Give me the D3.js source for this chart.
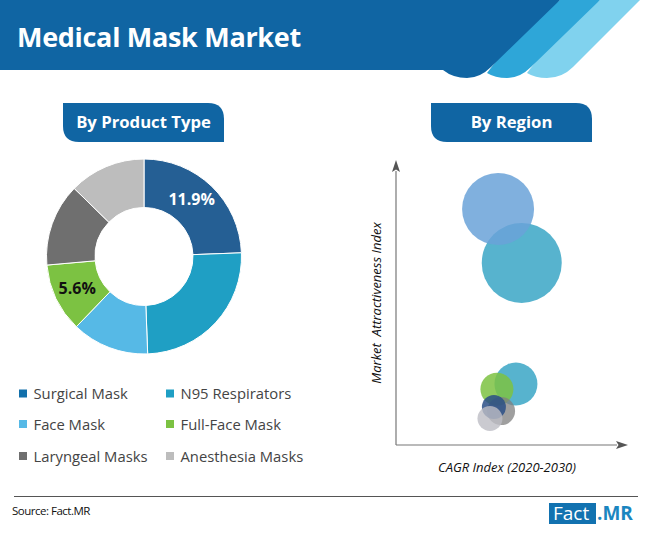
<!DOCTYPE html>
<html><head><meta charset="utf-8">
<script src="https://cdn.jsdelivr.net/npm/d3@7"></script>
<style>html,body{margin:0;padding:0;background:#fff}svg{display:block}text{font-family:"Open Sans","Noto Sans",sans-serif}</style>
</head><body><svg id="c" width="650" height="533"></svg>
<script>
const categories=["Surgical Mask","N95 Respirators","Face Mask","Full-Face Mask","Laryngeal Masks","Anesthesia Masks"];
const shares=[24.4,25,12.8,11.4,13.7,12.7];
const sliceLabels=["11.9%",null,null,"5.6%",null,null];
const colors=["#255f94","#1f9fc4","#56b9e6","#7cc242","#6f6f6f","#bdbdbd"];
const legendSwatch=["#1270ab","#1f9fc4","#56b9e6","#7cc242","#6f6f6f","#bdbdbd"];
const bubbleX=[54.2,44,51.7,43.5,45.3,42.2,40.5];
const bubbleY=[63.9,82.8,21.4,19.6,11.9,13.3,9.3];
const bubbleSize=[1600,1296,462,272,196,144,156];
const bubbleColors=["#3aa6c6","#6aa2d8","#3aa6c6","#7cc242","#7f7f7f","#2a4f86","#bdbdc4"];
const bubbleOpacity=[.85,.85,.85,.85,.75,.85,.8];

const svg=d3.select("#c");
const BLUE="#1065a3";
// header
svg.append("path").attr("d","M600 0L640 0L573 67Q562 78 547 78Q535 78 527 73L560 30Z").attr("fill","#80d2ee");
svg.append("path").attr("d","M560 0L600 0L531 67Q520 78 507 78Q495 78 487 73L520 30Z").attr("fill","#2ea6d8");
svg.append("path").attr("d","M0 0L560 0L491 67Q480 78 467 78Q453 78 443 70L0 70Z").attr("fill",BLUE);
svg.append("text").attr("x",17).attr("y",47).attr("fill","#fff").attr("font-size",27).attr("letter-spacing",-.3).attr("font-weight",700).text("Medical Mask Market");

// pills
function pill(x,label){
  const y=103,w=161,h=39,r=16;
  svg.append("path").attr("d",`M${x} ${y}H${x+w-r}Q${x+w} ${y} ${x+w} ${y+r}V${y+h}H${x+r}Q${x} ${y+h} ${x} ${y+h-r}Z`).attr("fill",BLUE);
  svg.append("text").attr("x",x+w/2).attr("y",y+25).attr("text-anchor","middle").attr("fill","#fff").attr("font-size",16.7).attr("font-weight",700).text(label);
}
pill(63,"By Product Type");
pill(431,"By Region");

// donut
const pie=d3.pie().sort(null).value(d=>d)(shares);
const arc=d3.arc().innerRadius(49).outerRadius(97.5);
const g=svg.append("g").attr("transform","translate(144,256.5)");
g.selectAll("path").data(pie).join("path").attr("d",arc).attr("fill",(d,i)=>colors[i]).attr("stroke","#fff").attr("stroke-width",1);
const labelArc=d3.arc().innerRadius(73).outerRadius(73);
g.selectAll("text").data(pie.filter((d,i)=>sliceLabels[i])).join("text")
 .attr("x",d=>labelArc.centroid(d)[0]+(d.index===0?-3:-1)).attr("y",d=>labelArc.centroid(d)[1]+(d.index===0?1.5:6))
 .attr("text-anchor","middle").attr("font-size",16).attr("font-weight",700)
 .attr("fill",d=>d.index===0?"#fff":"#111").text(d=>sliceLabels[d.index]);

// legend
const lx=d3.scaleOrdinal().domain([0,1]).range([19,166]);
const ly=d3.scaleOrdinal().domain([0,1,2]).range([393.5,424,456]);
const leg=svg.append("g").selectAll("g").data(categories).join("g")
 .attr("transform",(d,i)=>`translate(${lx(i%2)},${ly(Math.floor(i/2))})`);
leg.append("rect").attr("x",0).attr("y",-4).attr("width",8).attr("height",8).attr("fill",(d,i)=>legendSwatch[i]);
leg.append("text").attr("x",14.5).attr("y",5.5).attr("font-size",14.8).attr("fill","#444").text(d=>d);

// bubble chart
const x=d3.scaleLinear().domain([0,100]).range([396,628]);
const y=d3.scaleLinear().domain([0,100]).range([445,160]);
const r=d3.scaleSqrt().domain([0,1600]).range([0,40]);
const defs=svg.append("defs");
defs.append("marker").attr("id","arr").attr("viewBox","0 0 12 8").attr("refX",1).attr("refY",4)
 .attr("markerWidth",12).attr("markerHeight",8).attr("markerUnits","userSpaceOnUse").attr("orient","auto")
 .append("path").attr("d","M0 0L12 4L0 8L2.5 4Z").attr("fill","#555");
svg.append("line").attr("x1",x(0)).attr("y1",y(0)).attr("x2",x(0)).attr("y2",y(0)-274).attr("stroke","#777").attr("stroke-width",1.2).attr("marker-end","url(#arr)");
svg.append("line").attr("x1",x(0)).attr("y1",y(0)).attr("x2",x(0)+221).attr("y2",y(0)).attr("stroke","#777").attr("stroke-width",1.2).attr("marker-end","url(#arr)");
svg.append("g").selectAll("circle").data(bubbleX).join("circle")
 .attr("cx",d=>x(d)).attr("cy",(d,i)=>y(bubbleY[i])).attr("r",(d,i)=>r(bubbleSize[i]))
 .attr("fill",(d,i)=>bubbleColors[i]).attr("fill-opacity",(d,i)=>bubbleOpacity[i]);
svg.append("text").attr("x",507).attr("y",472).attr("text-anchor","middle").attr("font-size",13).attr("font-style","italic").attr("fill","#111").text("CAGR Index (2020-2030)");
svg.append("text").attr("transform","translate(381,303) rotate(-90)").attr("text-anchor","middle").attr("font-size",13).attr("font-style","italic").attr("fill","#111").style("white-space","pre").text("Market  Attractiveness Index");

// footer
svg.append("line").attr("x1",14).attr("x2",638).attr("y1",496.5).attr("y2",496.5).attr("stroke","#555").attr("stroke-width",1);
svg.append("text").attr("x",12).attr("y",515).attr("font-size",11.5).attr("letter-spacing",-.5).attr("fill","#111").text("Source: Fact.MR");
svg.append("rect").attr("x",549).attr("y",503).attr("width",47).attr("height",21).attr("fill","#1272b0");
svg.append("text").attr("x",553).attr("y",520).attr("font-size",19).attr("fill","#fff").text("Fact");
svg.append("text").attr("x",597).attr("y",520).attr("font-size",19).attr("font-weight",700).attr("fill","#1a86c0").text(".MR");
</script></body></html>
